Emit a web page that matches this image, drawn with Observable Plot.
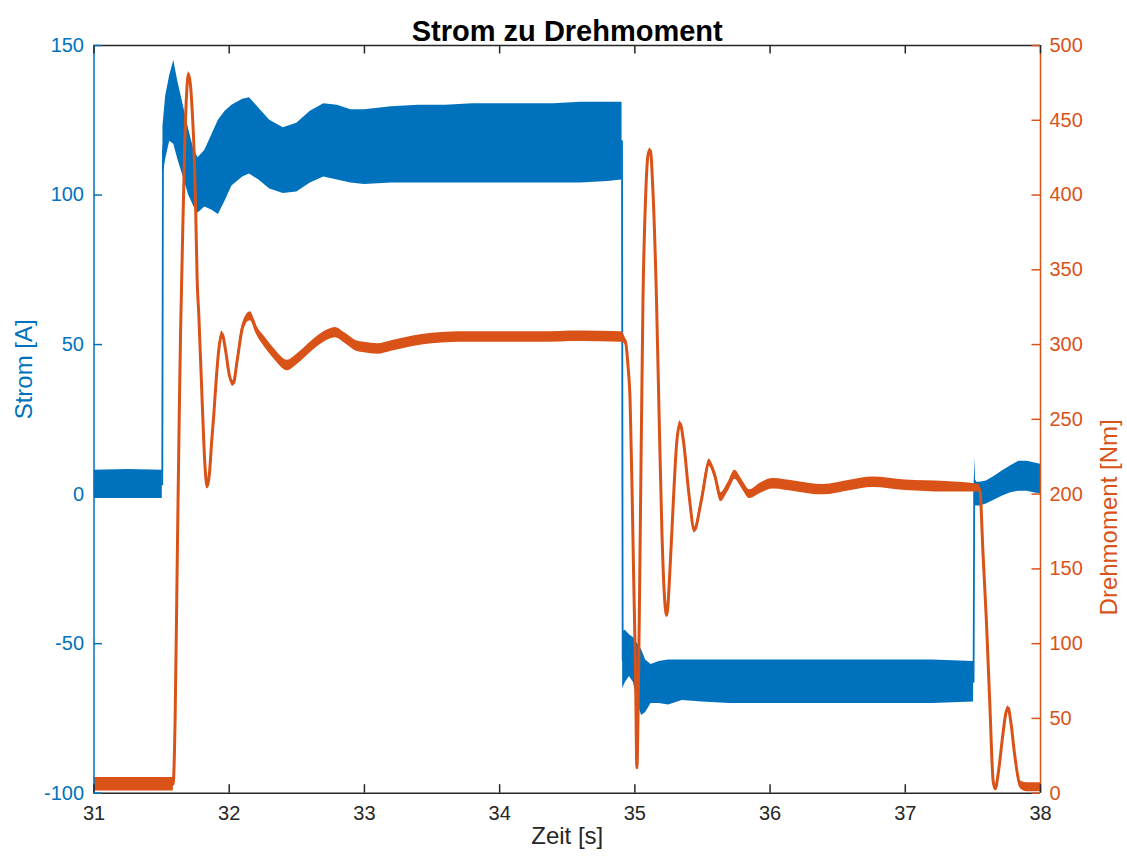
<!DOCTYPE html>
<html><head><meta charset="utf-8">
<script src="https://cdn.jsdelivr.net/npm/d3@7"></script>
<script src="https://cdn.jsdelivr.net/npm/@observablehq/plot@0.6"></script>
<style>html,body{margin:0;padding:0;background:#fff;} svg{display:block}</style>
</head><body><div id="chart"></div>
<script>
const title = "Strom zu Drehmoment";
const xLabel = "Zeit [s]";
const yLabelLeft = "Strom [A]";
const yLabelRight = "Drehmoment [Nm]";
const xTicks = [31, 32, 33, 34, 35, 36, 37, 38];
const currentTicks = [-100, -50, 0, 50, 100, 150];
const torqueTicks = [0, 50, 100, 150, 200, 250, 300, 350, 400, 450, 500];
const currentDomain = [-100, 150];
const torqueDomain = [0, 500];

// Strom [A]: time and lower / upper envelope of the noisy band
const currentT = [31.00, 31.25, 31.505,
  31.51, 31.53, 31.56, 31.59, 31.62, 31.66, 31.70, 31.74, 31.77, 31.82, 31.87, 31.92, 31.97, 32.02,
  32.10, 32.15, 32.22, 32.30, 32.40, 32.50, 32.60, 32.70, 32.80, 32.90,
  33.00, 33.20, 33.40, 33.60, 33.80, 34.00, 34.20, 34.40, 34.60, 34.80, 34.905,
  34.91, 34.93, 34.96, 34.99, 35.02, 35.05, 35.08, 35.12, 35.18, 35.25, 35.35, 35.50, 35.70,
  36.00, 36.30, 36.60, 36.90, 37.20, 37.505,
  37.51, 37.515, 37.52, 37.55, 37.60, 37.66, 37.72, 37.78, 37.84, 37.90, 37.95, 38.00];
const currentLo = [-1.5, -1.5, -1.5,
  106, 112, 118, 117, 112, 106, 100, 96, 94, 96, 95, 93.5, 98, 103,
  106, 107, 105, 102, 100.5, 101, 104, 106, 105, 104,
  103.5, 104, 104, 104, 104, 104, 104, 104, 104, 104.5, 105,
  -65, -63, -61, -63, -70, -74, -73, -70, -70, -70.5, -69, -69.5, -70,
  -70, -70, -70, -70, -70, -69.5,
  -3, -3, -4, -4, -3.3, -2, -0.6, 0.5, 1, 1, 0.5, 0];
const currentHi = [8, 8.2, 8,
  123, 133, 140, 145, 138, 130, 122, 115, 112.5, 115, 120, 125, 128, 130,
  132, 132.5, 129, 125, 122.5, 124, 128, 130.5, 130, 128.5,
  128.5, 129.5, 130, 130, 130.5, 130.5, 130.5, 130.5, 131, 131, 131,
  -46, -45.5, -47, -48, -50, -52, -55.5, -57, -56, -55.5, -55.5, -55.5, -55.5,
  -55.5, -55.5, -55.5, -55.5, -55.5, -56,
  4, 12, 4, 4, 4.4, 6, 7.8, 9.5, 11, 11, 10.5, 10];

// Drehmoment [Nm]: time, centre value and half width of the noise band
const torqueT = [31.00, 31.10, 31.20, 31.30, 31.40, 31.50, 31.585,
  31.60, 31.615, 31.63, 31.64, 31.652, 31.67, 31.685, 31.70, 31.715, 31.73, 31.74, 31.752, 31.763,
  31.775, 31.80, 31.82, 31.837, 31.855, 31.87, 31.885, 31.905, 31.922, 31.947, 31.975, 32.00, 32.03,
  32.06, 32.10, 32.157, 32.20, 32.26, 32.33, 32.43, 32.50, 32.60, 32.70, 32.785, 32.86, 32.94,
  33.00, 33.10, 33.20, 33.35, 33.50, 33.70, 34.00, 34.30, 34.60, 34.90,
  34.93, 34.95, 34.965, 34.98, 34.99, 35.005, 35.015, 35.025, 35.04, 35.06, 35.08, 35.10, 35.115,
  35.13, 35.16, 35.18, 35.20, 35.22, 35.236, 35.26, 35.285, 35.31, 35.335, 35.36, 35.40, 35.44,
  35.49, 35.55, 35.59, 35.635, 35.69, 35.74, 35.79, 35.85, 35.93, 36.02, 36.20, 36.39, 36.60,
  36.76, 37.00, 37.30, 37.55,
  37.575, 37.60, 37.625, 37.65, 37.665, 37.69, 37.72, 37.745, 37.761, 37.78, 37.81, 37.848, 37.90, 38.00];
const torqueNm = [6, 6, 6, 6, 6, 6, 6,
  50, 151, 250, 307, 358, 430, 468, 481, 472, 450, 430, 390, 343,
  320, 262, 220, 205, 215, 235, 252, 278, 296, 307, 295, 280, 274,
  290, 312, 319, 310, 302, 294, 286, 290, 298, 305, 308, 304, 299,
  298, 297, 299, 302, 304, 305, 305, 305, 305.5, 305,
  302, 285, 262, 200, 150, 80, 17, 60, 175, 330, 400, 428, 430,
  410, 330, 250, 175, 130, 119, 150, 196, 235, 247, 235, 200, 176,
  195, 221, 213, 198, 205, 213, 207, 200, 204, 207, 205, 203, 206,
  208, 206, 205, 204,
  160, 115, 60, 8, 3, 15, 38, 54, 57, 48, 25, 6, 4, 4];
const torqueNoise = [4.5, 4.5, 4.5, 4.5, 4.5, 4.5, 4.5,
  1, 1, 1, 1, 1, 1, 1, 1.5, 1.5, 1, 1, 1, 1,
  1, 1, 1, 1.5, 1, 1, 1, 1, 1.5, 2, 2, 2, 2,
  2, 2.5, 3, 3, 3.5, 3.5, 3.5, 3.5, 3.5, 3.5, 3.5, 3.5, 3.5,
  3.5, 3.5, 3.5, 3.5, 3.5, 3.5, 3.5, 3.5, 3.5, 3.5,
  2, 1, 1, 1, 1, 1, 1, 1, 1, 1, 1, 1.5, 1.5,
  1, 1, 1, 1, 1, 1.5, 1, 1, 1.5, 2, 2, 2, 2,
  2, 2.5, 2.5, 3, 3, 3, 3, 3, 3.5, 3.5, 3.5, 3.5, 3.5,
  3.5, 3.5, 3.5, 2.5,
  1, 1, 1, 1, 1, 1, 1, 1, 1.5, 1, 1, 2.5, 3, 3];

const BLUE = "#0072BD", ORANGE = "#D95319", DARK = "#262626";
const FONT = "'Liberation Sans', Arial, Helvetica, sans-serif";

// map torque onto the left (current) scale so both share one y scale
const k = (currentDomain[1] - currentDomain[0]) / (torqueDomain[1] - torqueDomain[0]);
const toA = v => currentDomain[0] + (v - torqueDomain[0]) * k;
const toNm = a => torqueDomain[0] + (a - currentDomain[0]) / k;

const cur = currentT.map((t, i) => ({t, lo: currentLo[i], hi: currentHi[i], mid: (currentLo[i] + currentHi[i]) / 2}));
const tq = torqueT.map((t, i) => ({t, lo: toA(Math.max(0, torqueNm[i] - torqueNoise[i])), hi: toA(torqueNm[i] + torqueNoise[i]), mid: toA(torqueNm[i])}));

const W = 1127, H = 861, ML = 93.5, MR = 87, MT = 45, MB = 68.3;
const FW = W - ML - MR, FH = H - MT - MB;

const chart = Plot.plot({
  width: W, height: H,
  marginLeft: ML, marginRight: MR, marginTop: MT, marginBottom: MB,
  style: {fontFamily: FONT, fontSize: "20px", background: "#fff", overflow: "visible"},
  x: {domain: [xTicks[0], xTicks[xTicks.length - 1]]},
  y: {domain: currentDomain},
  marks: [
    Plot.areaY(cur, {x: "t", y1: "lo", y2: "hi", fill: BLUE, clip: true}),
    Plot.line(cur, {x: "t", y: "mid", stroke: BLUE, strokeWidth: 1.8, clip: true}),
    Plot.areaY(tq, {x: "t", y1: "lo", y2: "hi", fill: ORANGE, curve: "monotone-x", clip: true}),
    Plot.line(tq, {x: "t", y: "mid", stroke: ORANGE, strokeWidth: 3, strokeLinejoin: "round", curve: "monotone-x", clip: true}),
    Plot.ruleY([currentDomain[1]], {stroke: DARK, strokeWidth: 1.5}),
    Plot.ruleY([currentDomain[0]], {stroke: DARK, strokeWidth: 1.5}),
    Plot.ruleX([xTicks[0]], {stroke: BLUE, strokeWidth: 1.5}),
    Plot.ruleX([xTicks[xTicks.length - 1]], {stroke: ORANGE, strokeWidth: 1.5}),
    Plot.tickX(xTicks, {x: d => d, stroke: DARK, strokeWidth: 1.5, insetTop: FH - 8.5}),
    Plot.tickX(xTicks, {x: d => d, stroke: DARK, strokeWidth: 1.5, insetBottom: FH - 8.5}),
    Plot.tickY(currentTicks, {y: d => d, stroke: BLUE, strokeWidth: 1.5, insetRight: FW - 8.5}),
    Plot.tickY(torqueTicks.map(toA), {y: d => d, stroke: ORANGE, strokeWidth: 1.5, insetLeft: FW - 8.5}),
    Plot.axisX({ticks: xTicks, tickSize: 0, tickPadding: 13, color: DARK, fontSize: 20, label: null, tickFormat: d => String(d)}),
    Plot.axisY({anchor: "left", ticks: currentTicks, tickSize: 0, tickPadding: 10, color: BLUE, fontSize: 20, label: null, tickFormat: d => String(d)}),
    Plot.axisY({anchor: "right", ticks: torqueTicks.map(toA), tickSize: 0, tickPadding: 9, color: ORANGE, fontSize: 20, label: null, tickFormat: d => String(Math.round(toNm(d)))}),
    Plot.text([title], {text: d => d, frameAnchor: "top", dy: -25, fontSize: 29, fontWeight: "bold", fill: "#000"}),
    Plot.text([yLabelLeft], {text: d => d, frameAnchor: "left", dx: -70, rotate: -90, fill: BLUE, fontSize: 24}),
    Plot.text([yLabelRight], {text: d => d, frameAnchor: "right", dx: 69, rotate: -90, fill: ORANGE, fontSize: 24}),
    Plot.text([xLabel], {text: d => d, frameAnchor: "bottom", dy: 51, fill: DARK, fontSize: 24})
  ]
});
document.getElementById("chart").appendChild(chart);
</script></body></html>
